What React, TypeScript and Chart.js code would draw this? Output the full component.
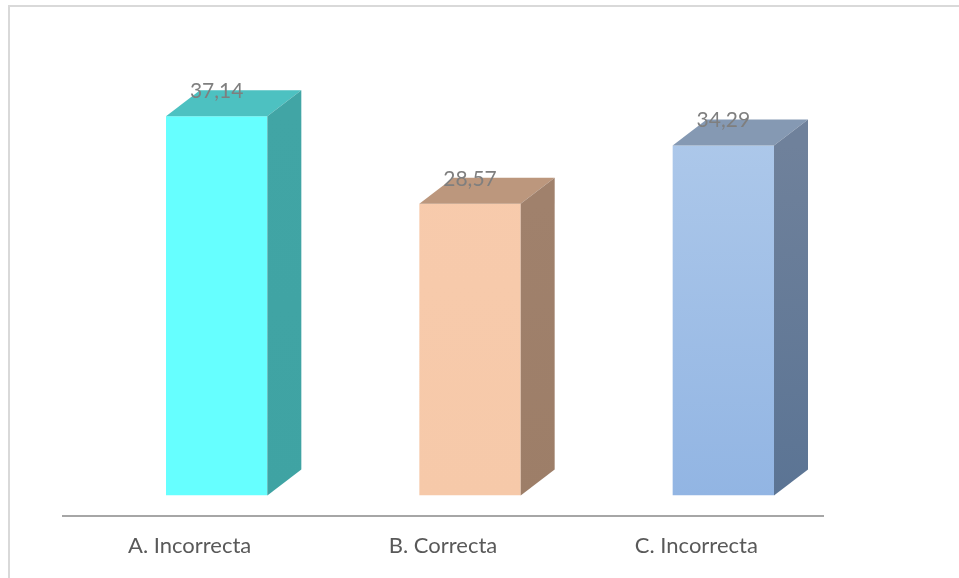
import React, { useEffect, useRef } from "react";
import { Chart, registerables } from "chart.js";

Chart.register(...registerables);

const categories = ["A. Incorrecta", "B. Correcta", "C. Incorrecta"];
const values = [37.14, 28.57, 34.29];
const valueLabels = ["37,14", "28,57", "34,29"];

// front, top and side face colours per bar (front C uses a gradient)
const frontTop = ["#66ffff", "#f8cbad", "#b1cbeb"];
const frontBottom = ["#66ffff", "#f6c9a9", "#92b5e3"];
const topFaces = ["#4dc1c1", "#bc977d", "#8599b3"];
const sideTop = ["#41a5a5", "#a0816c", "#6f819b"];
const sideBottom = ["#3fa3a3", "#9d7e68", "#5b7494"];

const FLOOR_DX = 27;
const FLOOR_DY = -20;
const DEPTH_X = 34;
const DEPTH_Y = -26;

const boxPlugin = {
  id: "box3d",
  beforeDatasetsDraw(chart: any) {
    const ctx = chart.ctx;
    ctx.save();
    ctx.translate(FLOOR_DX, FLOOR_DY);
  },
  afterDatasetsDraw(chart: any) {
    const ctx = chart.ctx;
    const meta = chart.getDatasetMeta(0);
    meta.data.forEach((bar: any, i: number) => {
      const { x, y, base, width } = bar.getProps(["x", "y", "base", "width"], true);
      const l = x - width / 2;
      const r = x + width / 2;
      // top face
      ctx.beginPath();
      ctx.moveTo(l, y);
      ctx.lineTo(l + DEPTH_X, y + DEPTH_Y);
      ctx.lineTo(r + DEPTH_X, y + DEPTH_Y);
      ctx.lineTo(r, y);
      ctx.closePath();
      ctx.fillStyle = topFaces[i];
      ctx.fill();
      // side face
      const g = ctx.createLinearGradient(0, y, 0, base);
      g.addColorStop(0, sideTop[i]);
      g.addColorStop(1, sideBottom[i]);
      ctx.beginPath();
      ctx.moveTo(r, y);
      ctx.lineTo(r + DEPTH_X, y + DEPTH_Y);
      ctx.lineTo(r + DEPTH_X, base + DEPTH_Y);
      ctx.lineTo(r, base);
      ctx.closePath();
      ctx.fillStyle = g;
      ctx.fill();
      // value label
      ctx.fillStyle = "#7f7f7f";
      ctx.font = "21px Lato, 'Open Sans', sans-serif";
      ctx.textAlign = "center";
      ctx.textBaseline = "middle";
      ctx.fillText(valueLabels[i], x, y - 25);
    });
    ctx.restore();
  },
};

export default function App() {
  const ref = useRef<HTMLCanvasElement | null>(null);

  useEffect(() => {
    document.body.style.margin = "0";
    const canvas = ref.current;
    if (!canvas) return;
    const chart = new Chart(canvas, {
      type: "bar",
      data: {
        labels: categories,
        datasets: [
          {
            data: values,
            backgroundColor: (c: any) => {
              const i = c.dataIndex;
              const area = c.chart.chartArea;
              if (!area || i === undefined) return frontTop[0];
              const g = c.chart.ctx.createLinearGradient(0, area.top + 40, 0, area.bottom);
              g.addColorStop(0, frontTop[i]);
              g.addColorStop(1, frontBottom[i]);
              return g;
            },
            borderWidth: 0,
            categoryPercentage: 1,
            barPercentage: 0.4,
          },
        ],
      },
      options: {
        responsive: false,
        animation: false,
        layout: { padding: { left: 63, right: 136, top: 56, bottom: 2 } },
        plugins: {
          legend: { display: false },
          tooltip: { enabled: false },
        },
        scales: {
          x: {
            grid: { display: false, drawTicks: false },
            border: { display: true, color: "#a6a6a6", width: 2 },
            ticks: {
              color: "#595959",
              padding: 17,
              font: { size: 22, family: "Lato, 'Open Sans', sans-serif" },
            },
          },
          y: {
            display: false,
            min: 0,
            max: 45,
          },
        },
      },
      plugins: [boxPlugin],
    });
    return () => chart.destroy();
  }, []);

  return (
    <div style={{ position: "relative", width: 959, height: 578, overflow: "hidden", background: "#fff" }}>
      <div
        style={{
          position: "absolute",
          left: 8,
          top: 5,
          width: 949,
          height: 600,
          borderTop: "2px solid #d9d9d9",
          borderLeft: "2px solid #d9d9d9",
        }}
      />
      <canvas ref={ref} width={959} height={578} style={{ position: "absolute", left: 0, top: 0 }} />
    </div>
  );
}
